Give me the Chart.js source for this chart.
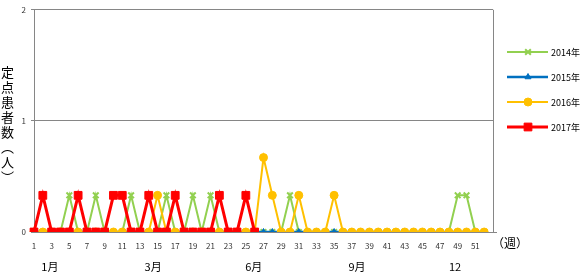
<!DOCTYPE html>
<html lang="ja">
  <head>
    <meta charset="UTF-8" />
    <title>定点患者数</title>
    <style>
      body {
        margin: 0;
        background: #fff;
      }
      #wrap {
        position: relative;
        width: 581px;
        height: 273px;
      }
      #yTitle {
        position: absolute;
        left: 0;
        top: 66px;
        writing-mode: vertical-rl;
        font-family: "Noto Sans CJK JP", sans-serif;
        font-size: 13px;
        line-height: 14px;
        letter-spacing: 2px;
        color: #000;
      }
    </style>
    <script src="https://cdn.jsdelivr.net/npm/chart.js"></script>
  </head>
  <body>
    <div id="wrap">
      <canvas id="chart" width="581" height="273"></canvas>
      <div id="yTitle">定点患者数（人）</div>
    </div>

    <script>
      const weekLabels = [
        "1", "2", "3", "4", "5", "6", "7", "8", "9", "10",
        "11", "12", "13", "14", "15", "16", "17", "18", "19", "20",
        "21", "22", "23", "24", "25", "26", "27", "28", "29", "30",
        "31", "32", "33", "34", "35", "36", "37", "38", "39", "40",
        "41", "42", "43", "44", "45", "46", "47", "48", "49", "50",
        "51", "52", "53",
      ];

      // 定点あたり患者数 (weeks 1-52)
      const data2014 = [
        0, 0, 0, 0, 0.33, 0, 0, 0.33, 0, 0,
        0, 0.33, 0, 0, 0, 0.33, 0, 0, 0.33, 0,
        0.33, 0, 0, 0, 0, 0, 0, 0, 0, 0.33,
        0, 0, 0, 0, 0, 0, 0, 0, 0, 0,
        0, 0, 0, 0, 0, 0, 0, 0, 0.33, 0.33,
        0, 0,
      ];
      const data2015 = [
        0, 0, 0, 0, 0, 0, 0, 0, 0, 0,
        0, 0, 0, 0, 0, 0, 0, 0, 0, 0,
        0, 0, 0, 0, 0, 0, 0, 0, 0, 0,
        0, 0, 0, 0, 0, 0, 0, 0, 0, 0,
        0, 0, 0, 0, 0, 0, 0, 0, 0, 0,
        0, 0,
      ];
      const data2016 = [
        0, 0, 0, 0, 0, 0, 0, 0, 0, 0,
        0, 0, 0, 0, 0.33, 0, 0, 0, 0, 0,
        0, 0, 0, 0, 0, 0, 0.67, 0.33, 0, 0,
        0.33, 0, 0, 0, 0.33, 0, 0, 0, 0, 0,
        0, 0, 0, 0, 0, 0, 0, 0, 0, 0,
        0, 0,
      ];
      const data2017 = [
        0, 0.33, 0, 0, 0, 0.33, 0, 0, 0, 0.33,
        0.33, 0, 0, 0.33, 0, 0, 0.33, 0, 0, 0,
        0, 0.33, 0, 0, 0.33, 0,
      ];

      const yTicks = [0, 1, 2];
      const monthLabels = ["1月", "3月", "6月", "9月", "12"];
      const monthPos = [1.8, 13.5, 24.9, 36.6, 47.7];

      const FONT = "'Noto Sans CJK JP', sans-serif";
      const GRID = "#868686";

      // legend + right border + (週)
      const extras = {
        id: "extras",
        afterDraw(chart) {
          const ctx = chart.ctx;
          const a = chart.chartArea;
          ctx.save();
          ctx.strokeStyle = GRID;
          ctx.lineWidth = 1;
          ctx.beginPath();
          ctx.moveTo(a.right + 0.5, a.top);
          ctx.lineTo(a.right + 0.5, a.bottom);
          ctx.moveTo(a.right, a.bottom + 0.5);
          ctx.lineTo(a.right + 4, a.bottom + 0.5);
          ctx.stroke();

          ctx.fillStyle = "#000";
          ctx.font = "12px " + FONT;
          ctx.textBaseline = "middle";
          ctx.textAlign = "left";
          ctx.fillText("（週）", a.right - 1, a.bottom + 11);

          chart.data.datasets.forEach((ds, i) => {
            const y = 52 + i * 25;
            ctx.strokeStyle = ds.borderColor;
            ctx.lineWidth = ds.borderWidth;
            ctx.beginPath();
            ctx.moveTo(507, y);
            ctx.lineTo(548, y);
            ctx.stroke();
            ctx.fillStyle = ds.pointBackgroundColor;
            ctx.strokeStyle = ds.borderColor;
            ctx.lineWidth = ds.pointBorderWidth;
            Chart.helpers.drawPoint(
              ctx,
              {
                pointStyle: ds.pointStyle,
                radius: ds.pointRadius,
                rotation: 0,
                borderWidth: ds.pointBorderWidth,
              },
              528,
              y
            );
            ctx.fillStyle = "#000";
            ctx.font = "9px " + FONT;
            ctx.fillText(ds.label, 551, y + 1);
          });
          ctx.restore();
        },
      };

      new Chart(document.getElementById("chart"), {
        type: "line",
        data: {
          labels: weekLabels,
          datasets: [
            {
              label: "2014年",
              data: data2014,
              borderColor: "#92D050",
              pointBackgroundColor: "#92D050",
              borderWidth: 2,
              pointStyle: "crossRot",
              pointRadius: 4,
              pointBorderWidth: 2,
              order: 4,
            },
            {
              label: "2015年",
              data: data2015,
              borderColor: "#0070C0",
              pointBackgroundColor: "#0070C0",
              borderWidth: 2.5,
              pointStyle: "triangle",
              pointRadius: 3.5,
              pointBorderWidth: 1,
              order: 3,
            },
            {
              label: "2016年",
              data: data2016,
              borderColor: "#FFC000",
              pointBackgroundColor: "#FFC000",
              borderWidth: 2,
              pointStyle: "circle",
              pointRadius: 4,
              pointBorderWidth: 1,
              order: 2,
            },
            {
              label: "2017年",
              data: data2017,
              borderColor: "#FF0000",
              pointBackgroundColor: "#FF0000",
              borderWidth: 3,
              pointStyle: "rect",
              pointRadius: 5.5,
              pointBorderWidth: 1,
              order: 1,
            },
          ],
        },
        options: {
          responsive: false,
          animation: false,
          layout: { padding: { top: 3, right: 88, left: 0, bottom: 0 } },
          elements: { line: { tension: 0 } },
          plugins: {
            legend: { display: false },
            tooltip: { enabled: false },
          },
          scales: {
            x: {
              type: "category",
              offset: false,
              grid: { display: false, drawTicks: false },
              border: { display: true, color: GRID },
              ticks: {
                autoSkip: false,
                maxRotation: 0,
                padding: 9,
                color: "#333",
                font: { size: 8, family: FONT },
                callback: (v, i) => (i % 2 === 0 && i < 51 ? weekLabels[i] : ""),
              },
              afterFit: (s) => {
                s.height = 22;
              },
            },
            xm: {
              type: "linear",
              position: "bottom",
              min: 0,
              max: 52,
              grid: { display: false, drawTicks: false },
              border: { display: false },
              afterBuildTicks: (s) => {
                s.ticks = monthPos.map((v) => ({ value: v }));
              },
              ticks: {
                autoSkip: false,
                maxRotation: 0,
                padding: 6,
                color: "#000",
                font: { size: 11, family: FONT },
                callback: (v, i) => monthLabels[i],
              },
              afterFit: (s) => {
                s.height = 19;
              },
            },
            y: {
              min: 0,
              max: 2,
              afterBuildTicks: (s) => {
                s.ticks = yTicks.map((v) => ({ value: v }));
              },
              grid: { color: GRID, tickLength: 3 },
              border: { color: GRID },
              ticks: {
                padding: 5,
                color: "#333",
                font: { size: 8, family: FONT },
              },
              afterFit: (s) => {
                s.width = 34;
              },
            },
          },
        },
        plugins: [extras],
      });
    </script>
  </body>
</html>
